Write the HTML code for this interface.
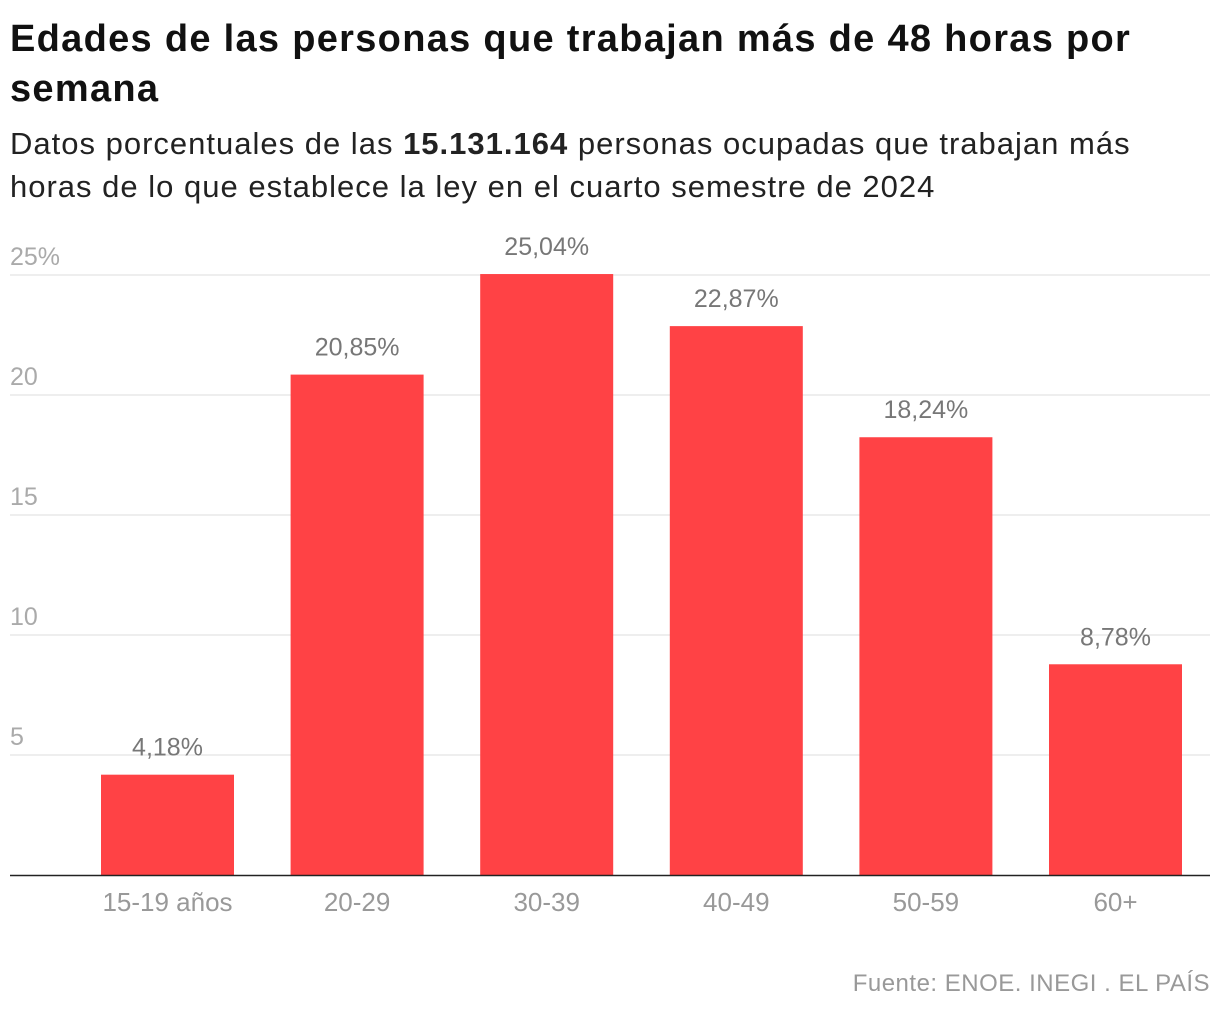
<!DOCTYPE html>
<html><head><meta charset="utf-8"><style>
body{margin:0;width:1220px;height:1016px;background:#fff;font-family:"Liberation Sans",sans-serif;overflow:hidden;position:relative}
h1{position:absolute;left:10px;top:14px;margin:0;font-size:38px;line-height:50px;font-weight:bold;color:#111;width:1210px;letter-spacing:1.3px;white-space:nowrap}
.sub{position:absolute;left:10px;top:122px;font-size:31px;line-height:43px;color:#222;width:1210px;letter-spacing:1.0px;white-space:nowrap}
.src{position:absolute;right:10px;top:970px;font-size:24px;color:#999;letter-spacing:0.5px}
svg{position:absolute;left:0;top:0}
</style></head><body>
<h1>Edades de las personas que trabajan más de 48 horas por<br>semana</h1>
<div class="sub">Datos porcentuales de las <b>15.131.164</b> personas ocupadas que trabajan más<br>horas de lo que establece la ley en el cuarto semestre de 2024</div>
<svg id="chart" width="1220" height="1016"></svg>
<div class="src">Fuente: ENOE. INEGI . EL PAÍS</div>
<script>
const categories=["15-19 años","20-29","30-39","40-49","50-59","60+"];
const values=[4.18,20.85,25.04,22.87,18.24,8.78];
const valueLabels=["4,18%","20,85%","25,04%","22,87%","18,24%","8,78%"];
const ticks=[5,10,15,20,25];
const tickLabels=["5","10","15","20","25%"];
const svg=document.getElementById('chart');
const NS="http://www.w3.org/2000/svg";
const y=v=>875-v*24;
const x=i=>101+i*189.6;
const bw=133;
function mk(t,a){const e=document.createElementNS(NS,t);for(const k in a)e.setAttribute(k,a[k]);svg.appendChild(e);return e;}
ticks.forEach((t,i)=>{
 const l=mk('line',{x1:10,x2:1210,y1:y(t),y2:y(t),stroke:'#ddd','stroke-width':1});
 
 
 const tx=mk('text',{x:10,y:y(t)-10,'font-size':25,fill:'#aaa','font-family':'Liberation Sans, sans-serif'});
 tx.textContent=tickLabels[i];
 
 
});
values.forEach((v,i)=>{
 const r=mk('rect',{x:x(i),y:y(v),width:bw,height:875-y(v),fill:'#ff4245'});
 
 
 const t=mk('text',{x:x(i)+bw/2,y:y(v)-19,'text-anchor':'middle','font-size':25,fill:'#777','font-family':'Liberation Sans, sans-serif'});
 t.textContent=valueLabels[i];
 
 
 const c=mk('text',{x:x(i)+bw/2,y:911,'text-anchor':'middle','font-size':26,fill:'#999','font-family':'Liberation Sans, sans-serif'});
 c.textContent=categories[i];
 
 
});
const b=mk('line',{x1:10,x2:1210,y1:875.5,y2:875.5,stroke:'#222','stroke-width':1.5});


</script>
</body></html>
